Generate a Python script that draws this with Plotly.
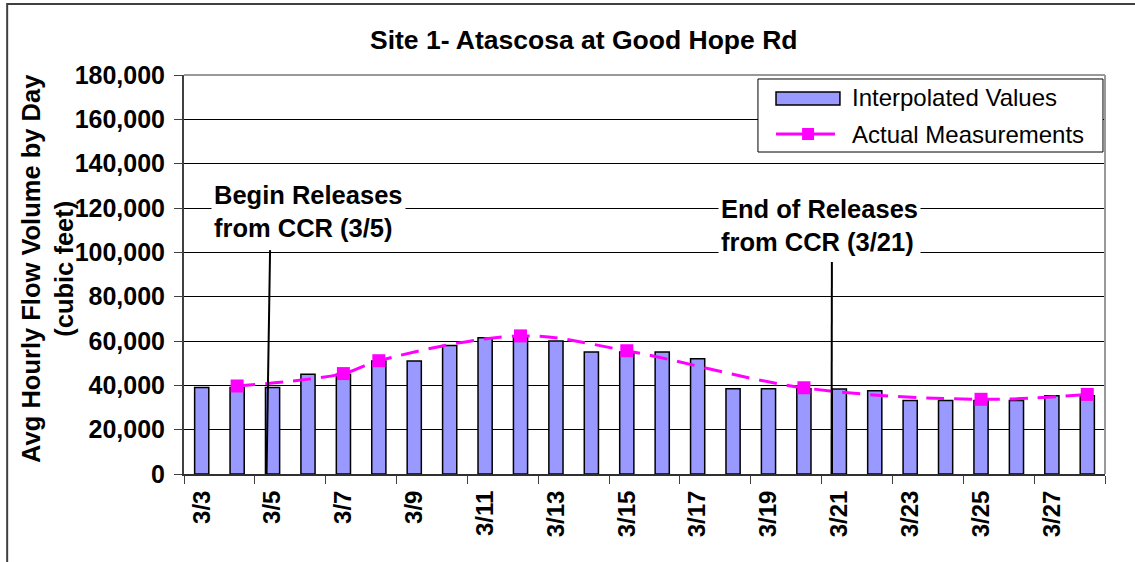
import plotly.graph_objects as go

# Days of the study period.
dates = ['3/3', '3/4', '3/5', '3/6', '3/7', '3/8', '3/9', '3/10', '3/11',
         '3/12', '3/13', '3/14', '3/15', '3/16', '3/17', '3/18', '3/19',
         '3/20', '3/21', '3/22', '3/23', '3/24', '3/25', '3/26', '3/27',
         '3/28']

# Interpolated daily values (cubic feet).
interpolated = [39000, 39000, 39000, 45000, 45000, 51000, 51000, 58000,
                61500, 61500, 60000, 55000, 55000, 55000, 52000, 38500,
                38500, 38500, 38300, 37600, 33200, 33200, 33200, 33200,
                35300, 35300]

# Field measurements, only on some days.
actual = [None, 39700, None, None, 45300, 51100, None, None, None, 62300,
          None, None, 55600, None, None, None, None, 38900, None, None,
          None, None, 33700, None, None, 35900]

font = 'Liberation Sans, Arial, sans-serif'
bar_color = '#9999FF'
line_color = '#FF00FF'

fig = go.Figure()
fig.add_trace(go.Bar(x=dates, y=interpolated, name='Interpolated Values',
                     width=0.4, marker_color=bar_color,
                     marker_line_color='black', marker_line_width=1.5))
fig.add_trace(go.Scatter(x=dates, y=actual, name='Actual Measurements',
                         mode='lines+markers', connectgaps=True,
                         line=dict(color=line_color, width=3,
                                   dash='18px,10px', shape='spline'),
                         marker=dict(symbol='square', size=13,
                                     color=line_color)))

fig.update_layout(
    width=1135, height=562,
    margin=dict(l=184, r=30, t=75, b=88),
    paper_bgcolor='white', plot_bgcolor='white',
    font=dict(family=font, size=24, color='black'),
    title=dict(text='<b>Site 1- Atascosa at Good Hope Rd</b>',
               x=0.434, xref='paper', xanchor='center',
               y=0.929, yanchor='middle', font=dict(size=26.5)),
    showlegend=False,
)

fig.update_yaxes(range=[0, 180000], dtick=20000, tickformat=',',
                 showgrid=True, gridcolor='black', gridwidth=1,
                 showline=True, linecolor='#404040', linewidth=2,
                 ticks='outside', ticklen=8, tickcolor='#404040',
                 ticklabelstandoff=4,
                 tickfont=dict(size=25, family=font, weight='bold'),
                 zeroline=False)
fig.update_xaxes(type='category', range=[-0.5, 25.5], dtick=2,
                 tickson='boundaries', tickangle=-90,
                 showgrid=False, showline=True, linecolor='#303030',
                 linewidth=2, ticks='outside', ticklen=8,
                 tickcolor='#404040', ticklabelstandoff=5,
                 tickfont=dict(size=24, family=font, weight='bold'))

# Y title as two stacked lines.
fig.add_annotation(text='<b>Avg Hourly Flow Volume by Day<br>(cubic feet)</b>',
                   xref='paper', yref='paper', x=-0.149, y=0.516,
                   xanchor='center', yanchor='middle',
                   textangle=-90, showarrow=False, font=dict(size=25.5))

# Release notes with pointer lines.
fig.add_annotation(text='<b>Begin Releases<br>from CCR (3/5)</b>',
                   xref='paper', yref='y', x=0.029, y=118500,
                   xanchor='left', yanchor='middle', align='left',
                   showarrow=False, bgcolor='white', borderpad=2,
                   font=dict(size=25.5))
fig.add_annotation(text='<b>End of Releases<br>from CCR (3/21)</b>',
                   xref='paper', yref='y', x=0.58, y=112000,
                   xanchor='left', yanchor='middle', align='left',
                   showarrow=False, bgcolor='white', borderpad=2,
                   font=dict(size=25.5))
fig.add_shape(type='line', xref='x', yref='y', x0=1.83, y0=0,
              x1=1.93, y1=101000, line=dict(color='black', width=2))
fig.add_shape(type='line', xref='x', yref='y', x0=17.78, y0=0,
              x1=17.79, y1=95600, line=dict(color='black', width=2))

# Legend box drawn by hand so the samples match the original.
fig.add_shape(type='rect', xref='paper', yref='paper', x0=0.6232,
              y0=0.807, x1=0.9978, y1=0.99, fillcolor='white',
              line=dict(color='black', width=1))
fig.add_shape(type='rect', xref='paper', yref='paper', x0=0.6428,
              y0=0.9248, x1=0.7122, y1=0.9574, fillcolor=bar_color,
              line=dict(color='black', width=1.5))
fig.add_shape(type='line', xref='paper', yref='paper', x0=0.6428,
              y0=0.8521, x1=0.7068, y1=0.8521,
              line=dict(color=line_color, width=3))
fig.add_shape(type='rect', xref='paper', yref='paper', x0=0.6711,
              y0=0.8371, x1=0.6841, y1=0.8671, fillcolor=line_color,
              line=dict(width=0))
fig.add_annotation(text='Interpolated Values', xref='paper', yref='paper',
                   x=0.7231, y=0.9424, xanchor='left', yanchor='middle',
                   showarrow=False, font=dict(size=24))
fig.add_annotation(text='Actual Measurements', xref='paper', yref='paper',
                   x=0.7231, y=0.8521, xanchor='left', yanchor='middle',
                   showarrow=False, font=dict(size=24))

# Plot area frame and chart border.
fig.add_shape(type='line', xref='paper', yref='paper', x0=0, y0=1,
              x1=1, y1=1, line=dict(color='#999999', width=2))
fig.add_shape(type='line', xref='paper', yref='paper', x0=1, y0=0,
              x1=1, y1=1, line=dict(color='#999999', width=2))
fig.add_shape(type='rect', xref='paper', yref='paper', x0=-0.192,
              y0=-0.25, x1=1.06, y1=1.178,
              line=dict(color='#404040', width=2))

fig.write_html('out.html', config={'displayModeBar': False},
               post_script="document.body.style.margin='0';")
